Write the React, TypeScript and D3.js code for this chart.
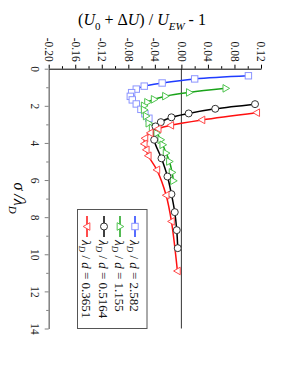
import React, { useRef, useEffect } from "react";
import * as d3 from "d3";

// sigma / lambda_D (vertical) and (U0 + dU)/U_EW - 1 (horizontal) per series
const blueSigma = [0.38, 0.55, 0.77, 0.94, 1.1, 1.29, 1.49, 1.68, 1.9, 2.19, 2.43, 2.67];
const blueValue = [0.101, 0.02, -0.029, -0.056, -0.068, -0.075, -0.077, -0.074, -0.068, -0.061, -0.055, -0.049];

const greenSigma = [1.06, 1.28, 1.48, 1.65, 1.81, 2.0, 2.22, 2.55, 2.94, 3.19, 3.47, 3.83, 4.1, 4.55, 5.0, 5.59, 6.04];
const greenValue = [0.067, 0.012, -0.024, -0.041, -0.051, -0.056, -0.056, -0.053, -0.049, -0.044, -0.037, -0.031, -0.028, -0.023, -0.018, -0.014, -0.012];

const blackSigma = [1.91, 2.16, 2.41, 2.62, 2.88, 3.11, 3.83, 4.83, 5.81, 6.76, 7.73, 8.7, 9.67];
const blackValue = [0.111, 0.051, 0.011, -0.015, -0.031, -0.039, -0.041, -0.03, -0.021, -0.015, -0.01, -0.007, -0.0055];

const redSigma = [2.37, 2.76, 3.05, 3.24, 3.46, 3.75, 4.05, 4.37, 4.69, 5.45, 6.82, 8.23, 10.9];
const redValue = [0.1135, 0.031, -0.016, -0.035, -0.047, -0.055, -0.056, -0.053, -0.05, -0.037, -0.023, -0.015, -0.006];

const seriesLabels = ["0.3651", "0.5164", "1.155", "2.582"];

const valueTicks = [-0.2, -0.16, -0.12, -0.08, -0.04, 0, 0.04, 0.08, 0.12];
const valueMinorTicks = [-0.18, -0.14, -0.1, -0.06, -0.02, 0.02, 0.06, 0.1];
const sigmaTicks = [0, 2, 4, 6, 8, 10, 12, 14];
const sigmaMinorTicks = [1, 3, 5, 7, 9, 11, 13];

const FONT = "Liberation Serif, Times New Roman, serif";

const App = () => {
  const ref = useRef<SVGSVGElement>(null);

  useEffect(() => {
    const svg = d3.select(ref.current);
    svg.selectAll("*").remove();

    const x = d3.scaleLinear().domain([-0.2, 0.12]).range([48.7, 261]);
    const y = d3.scaleLinear().domain([0, 14]).range([68.7, 328.5]);

    // title
    const title = svg
      .append("text")
      .attr("x", 142)
      .attr("y", 25)
      .attr("text-anchor", "middle")
      .attr("font-family", FONT)
      .attr("font-size", 16);
    title.append("tspan").text("(");
    title.append("tspan").attr("font-style", "italic").text("U");
    title.append("tspan").attr("font-size", 11).attr("dy", 5).text("0");
    title.append("tspan").attr("dy", -5).text(" + Δ");
    title.append("tspan").attr("font-style", "italic").text("U");
    title.append("tspan").text(") / ");
    title.append("tspan").attr("font-style", "italic").text("U");
    title.append("tspan").attr("font-style", "italic").attr("font-size", 11).attr("dy", 5).text("EW");
    title.append("tspan").attr("dy", -5).text(" - 1");

    // sigma label (rotated)
    const sl = svg
      .append("text")
      .attr("transform", `translate(14,${198}) rotate(90)`)
      .attr("text-anchor", "middle")
      .attr("font-family", FONT)
      .attr("font-size", 16)
      .attr("font-style", "italic");
    sl.append("tspan").text("σ /λ");
    sl.append("tspan").attr("font-size", 11).attr("dy", 5).text("D");

    // zero line
    svg
      .append("line")
      .attr("x1", x(0))
      .attr("x2", x(0))
      .attr("y1", y(0))
      .attr("y2", y(14))
      .attr("stroke", "#333")
      .attr("stroke-width", 1);

    // top axis
    const topAxis = svg
      .append("g")
      .attr("transform", `translate(0,${y(0)})`)
      .call(d3.axisTop(x).tickValues(valueTicks).tickSize(4).tickSizeOuter(0).tickFormat((d) => (+d).toFixed(2)));
    topAxis
      .selectAll("text")
      .attr("transform", "rotate(90)")
      .attr("x", -7)
      .attr("y", 0)
      .attr("dy", "0.35em")
      .attr("fill", "#111")
      .style("font-family", FONT)
      .style("font-size", "11.5px")
      .style("text-anchor", "end");
    svg
      .append("g")
      .attr("transform", `translate(0,${y(0)})`)
      .call(d3.axisTop(x).tickValues(valueMinorTicks).tickSize(2.5).tickSizeOuter(0).tickFormat(() => ""))
      .call((g) => g.select(".domain").remove());

    // left axis (gray)
    const leftAxis = svg
      .append("g")
      .attr("transform", `translate(${x(-0.2)},0)`)
      .call(d3.axisLeft(y).tickValues(sigmaTicks).tickSize(4).tickSizeOuter(0).tickFormat((d) => String(d)));
    leftAxis.select(".domain").attr("stroke", "#808080").attr("stroke-width", 1.5);
    leftAxis.selectAll("line").attr("stroke", "#808080");
    leftAxis
      .selectAll("text")
      .attr("transform", "translate(-14,0) rotate(90)")
      .attr("x", 0)
      .attr("y", 0)
      .attr("dy", "0.35em")
      .attr("fill", "#222")
      .style("font-family", FONT)
      .style("font-size", "11.5px")
      .style("text-anchor", "middle");
    const leftMinor = svg
      .append("g")
      .attr("transform", `translate(${x(-0.2)},0)`)
      .call(d3.axisLeft(y).tickValues(sigmaMinorTicks).tickSize(2.5).tickFormat(() => ""))
      .call((g) => g.select(".domain").remove());
    leftMinor.selectAll("line").attr("stroke", "#808080");
    // keep the black top axis line above the gray one at the corner
    topAxis.raise();

    const line = d3
      .line<[number, number]>()
      .x((d) => x(d[0]))
      .y((d) => y(d[1]))
      .curve(d3.curveCatmullRom.alpha(0.5));

    const tri = (dir: number, r: number) =>
      `M${dir * r},0L${-dir * r * 0.75},${-r}L${-dir * r * 0.75},${r}Z`;

    const series = [
      { v: blueValue, s: blueSigma, line: "#1f3cff", mark: "#8c95ff", shape: "square" },
      { v: greenValue, s: greenSigma, line: "#1aa31a", mark: "#4fc44f", shape: "right" },
      { v: blackValue, s: blackSigma, line: "#000000", mark: "#333333", shape: "circle" },
      { v: redValue, s: redSigma, line: "#ff1010", mark: "#ff4a4a", shape: "left" },
    ];

    const drawMarker = (g: any, shape: string, color: string, cx: number, cy: number) => {
      if (shape === "square") {
        g.append("rect")
          .attr("x", cx - 3.2)
          .attr("y", cy - 3.2)
          .attr("width", 6.4)
          .attr("height", 6.4)
          .attr("fill", "#fff")
          .attr("stroke", color)
          .attr("stroke-width", 1);
      } else if (shape === "circle") {
        g.append("circle")
          .attr("cx", cx)
          .attr("cy", cy)
          .attr("r", 3.5)
          .attr("fill", "#fff")
          .attr("stroke", color)
          .attr("stroke-width", 1);
      } else {
        g.append("path")
          .attr("transform", `translate(${cx},${cy})`)
          .attr("d", tri(shape === "right" ? 1 : -1, 3.8))
          .attr("fill", "#fff")
          .attr("stroke", color)
          .attr("stroke-width", 1);
      }
    };

    series.forEach((sr) => {
      const pts = sr.v.map((v, i) => [v, sr.s[i]] as [number, number]);
      svg
        .append("path")
        .datum(pts)
        .attr("fill", "none")
        .attr("stroke", sr.line)
        .attr("stroke-width", 1.5)
        .attr("d", line);
    });
    series.forEach((sr) => {
      const g = svg.append("g");
      sr.v.forEach((v, i) => drawMarker(g, sr.shape, sr.mark, x(v), y(sr.s[i])));
    });

    // legend
    svg
      .append("rect")
      .attr("x", 77.5)
      .attr("y", 209.5)
      .attr("width", 69.5)
      .attr("height", 119)
      .attr("fill", "#fff")
      .attr("stroke", "#555")
      .attr("stroke-width", 1);
    const legendOrder = [3, 2, 1, 0];
    const legendX = [87, 104, 120, 135];
    legendOrder.forEach((si, k) => {
      const sr = series[si];
      const lx = legendX[k];
      svg
        .append("line")
        .attr("x1", lx)
        .attr("x2", lx)
        .attr("y1", 216)
        .attr("y2", 237)
        .attr("stroke", sr.line)
        .attr("stroke-width", 1.5);
      drawMarker(svg, sr.shape, sr.mark, lx, 226.5);
      const t = svg
        .append("text")
        .attr("transform", `translate(${lx},240) rotate(90)`)
        .attr("dy", "0.35em")
        .attr("font-family", FONT)
        .attr("font-size", 13)
        .attr("fill", "#111");
      t.append("tspan").attr("font-style", "italic").text("λ");
      t.append("tspan").attr("font-style", "italic").attr("font-size", 9).attr("dy", 3.5).text("D");
      t.append("tspan").attr("dy", -3.5).text(" / ");
      t.append("tspan").attr("font-style", "italic").text("d");
      t.append("tspan").text(" = " + seriesLabels[k]);
    });
  }, []);

  return (
    <svg
      ref={ref}
      width={295}
      height={382}
      style={{ position: "absolute", left: 0, top: 0, background: "#fff" }}
    />
  );
};

export default App;
